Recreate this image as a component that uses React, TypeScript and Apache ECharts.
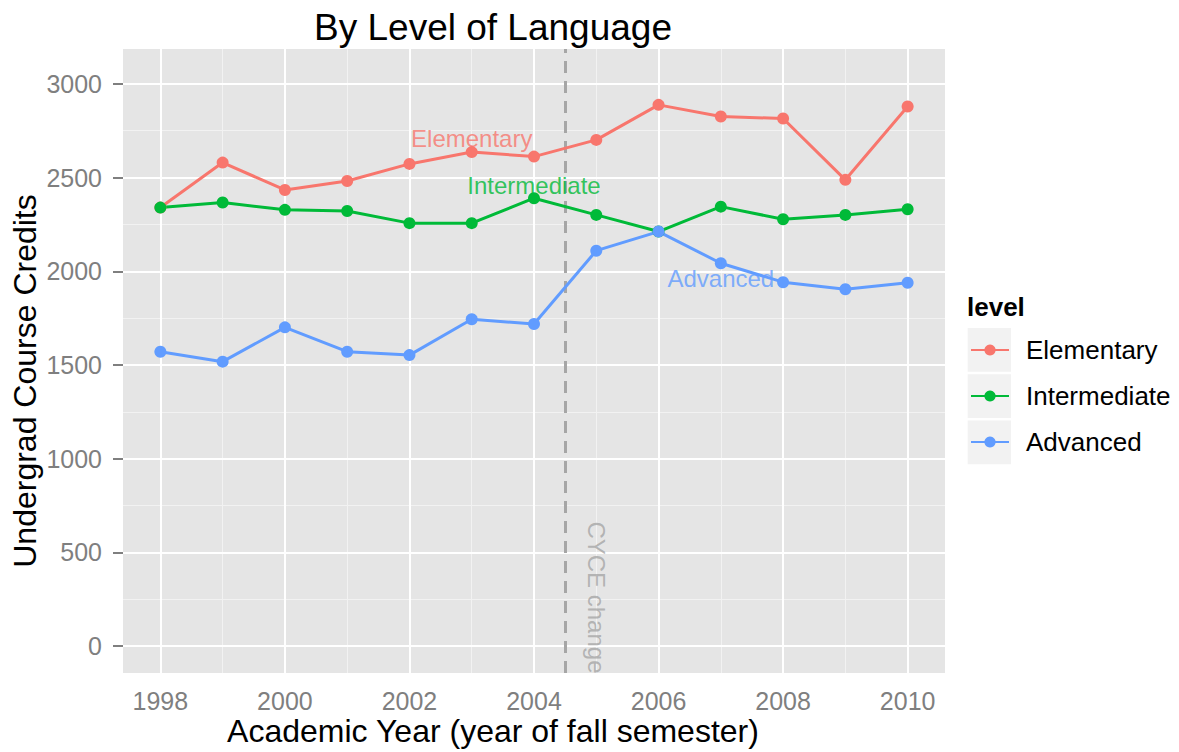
import React, { useEffect, useRef } from "react";
import * as echarts from "echarts";

const years = [1998, 1999, 2000, 2001, 2002, 2003, 2004, 2005, 2006, 2007, 2008, 2009, 2010];
const elementary = [2340, 2580, 2434, 2482, 2573, 2636, 2612, 2701, 2888, 2826, 2815, 2488, 2879];
const intermediate = [2340, 2367, 2328, 2322, 2257, 2257, 2390, 2301, 2212, 2345, 2278, 2301, 2331];
const advanced = [1571, 1518, 1701, 1571, 1553, 1744, 1719, 2110, 2212, 2043, 1942, 1904, 1939];

const xTicks = [1998, 2000, 2002, 2004, 2006, 2008, 2010];
const xMinor = [1999, 2001, 2003, 2005, 2007, 2009];
const yTicks = [0, 500, 1000, 1500, 2000, 2500, 3000];
const yMinor = [250, 750, 1250, 1750, 2250, 2750];

const levels = ["Elementary", "Intermediate", "Advanced"];
const levelValues = [elementary, intermediate, advanced];
const colors = ["#F8766D", "#00BA38", "#619CFF"];
const levelLabelPos = [
  [2003, 2710],
  [2004, 2460],
  [2007, 1963],
];
const cyceX = 2004.5;
const cyceLabelPos = [2005, 260];
const cyceText = "CYCE change";

const FONT = "Liberation Sans, Arial, Helvetica, sans-serif";

export default function App() {
  const ref = useRef<HTMLDivElement>(null);

  useEffect(() => {
    if (!ref.current) return;
    const chart = echarts.init(ref.current, undefined, { renderer: "svg" });

    const dataSeries = levels.map((name, i) => ({
      name,
      type: "line",
      z: 5,
      data: years.map((y, j) => [y, levelValues[i][j]]),
      symbol: "circle",
      symbolSize: 12,
      showAllSymbol: true,
      lineStyle: { color: colors[i], width: 3 },
      itemStyle: { color: colors[i] },
      emphasis: { disabled: true },
      silent: true,
    }));

    const labelSeries = levels.map((name, i) => ({
      name: name + "-label",
      type: "scatter",
      z: 10,
      silent: true,
      symbolSize: 1,
      itemStyle: { color: "rgba(0,0,0,0)" },
      data: [levelLabelPos[i]],
      label: {
        show: true,
        position: "inside",
        formatter: name,
        color: colors[i],
        fontSize: 24,
        fontFamily: FONT,
      },
      emphasis: { disabled: true },
    }));

    const option: any = {
      animation: false,
      backgroundColor: "#FFFFFF",
      textStyle: { fontFamily: FONT },
      grid: {
        left: 123,
        right: 234,
        top: 49,
        bottom: 79,
        show: true,
        backgroundColor: "#E5E5E5",
        borderWidth: 0,
      },
      xAxis: {
        type: "value",
        min: 1997.4,
        max: 2010.6,
        axisLine: { show: false },
        splitLine: { show: false },
        axisTick: {
          show: true,
          customValues: xTicks,
          length: 10,
          lineStyle: { color: "#7F7F7F", width: 2 },
        },
        axisLabel: {
          customValues: xTicks,
          color: "#7F7F7F",
          fontSize: 25,
          fontFamily: FONT,
          margin: 15,
          formatter: (v: number) => String(v),
        },
      },
      yAxis: {
        type: "value",
        min: -143,
        max: 3186,
        axisLine: { show: false },
        splitLine: { show: false },
        axisTick: {
          show: true,
          customValues: yTicks,
          length: 10,
          lineStyle: { color: "#7F7F7F", width: 2 },
        },
        axisLabel: {
          customValues: yTicks,
          color: "#7F7F7F",
          fontSize: 25,
          fontFamily: FONT,
          margin: 21,
          formatter: (v: number) => String(v),
        },
      },
      legend: {
        data: levels,
        orient: "vertical",
        left: 965,
        top: 330,
        itemWidth: 38,
        itemHeight: 14,
        itemGap: 16,
        selectedMode: false,
        textStyle: {
          fontSize: 26,
          lineHeight: 30,
          color: "#000000",
          fontFamily: FONT,
          padding: [0, 0, 0, 12],
        },
      },
      graphic: [
        {
          type: "text",
          x: 493,
          y: 27,
          style: {
            text: "By Level of Language",
            fontSize: 37,
            fontFamily: FONT,
            fill: "#000000",
            align: "center",
            verticalAlign: "middle",
          },
        },
        {
          type: "text",
          x: 493,
          y: 731,
          style: {
            text: "Academic Year (year of fall semester)",
            fontSize: 32,
            fontFamily: FONT,
            fill: "#000000",
            align: "center",
            verticalAlign: "middle",
          },
        },
        {
          type: "text",
          x: 25,
          y: 381,
          rotation: Math.PI / 2,
          style: {
            text: "Undergrad Course Credits",
            fontSize: 32,
            fontFamily: FONT,
            fill: "#000000",
            align: "center",
            verticalAlign: "middle",
          },
        },
        {
          type: "text",
          x: 967,
          y: 307,
          style: {
            text: "level",
            fontSize: 26,
            fontWeight: "bold",
            fontFamily: FONT,
            fill: "#000000",
            align: "left",
            verticalAlign: "middle",
          },
        },
        ...levels.map((_, i) => ({
          type: "rect",
          z: -1,
          shape: { x: 967.7, y: 328 + i * 46.3, width: 43.3, height: 43.7 },
          style: { fill: "#F2F2F2" },
        })),
      ],
      series: [
        {
          name: "grid-minor",
          type: "line",
          data: [],
          silent: true,
          markLine: {
            silent: true,
            z: 1,
            symbol: ["none", "none"],
            label: { show: false },
            lineStyle: { color: "#F2F2F2", width: 1, type: "solid" },
            emphasis: { disabled: true },
            data: [
              ...xMinor.map((v) => ({ xAxis: v })),
              ...yMinor.map((v) => ({ yAxis: v })),
            ],
          },
        },
        {
          name: "grid-major",
          type: "line",
          data: [],
          silent: true,
          markLine: {
            silent: true,
            z: 2,
            symbol: ["none", "none"],
            label: { show: false },
            lineStyle: { color: "#FFFFFF", width: 2, type: "solid" },
            emphasis: { disabled: true },
            data: [
              ...xTicks.map((v) => ({ xAxis: v })),
              ...yTicks.map((v) => ({ yAxis: v })),
            ],
          },
        },
        {
          name: "cyce",
          type: "line",
          data: [],
          silent: true,
          markLine: {
            silent: true,
            z: 3,
            symbol: ["none", "none"],
            label: { show: false },
            lineStyle: { color: "#A6A6A6", width: 3, type: [12, 8] },
            emphasis: { disabled: true },
            data: [{ xAxis: cyceX }],
          },
        },
        ...dataSeries,
        ...labelSeries,
        {
          name: "cyce-label",
          type: "scatter",
          z: 10,
          silent: true,
          symbolSize: 1,
          itemStyle: { color: "rgba(0,0,0,0)" },
          data: [cyceLabelPos],
          label: {
            show: true,
            position: "inside",
            formatter: cyceText,
            rotate: -90,
            color: "#A6A6A6",
            fontSize: 24,
            fontFamily: FONT,
          },
          emphasis: { disabled: true },
        },
      ],
    };

    chart.setOption(option);
    return () => chart.dispose();
  }, []);

  return (
    <div
      ref={ref}
      style={{ position: "absolute", left: 0, top: 0, width: 1179, height: 752 }}
    />
  );
}
